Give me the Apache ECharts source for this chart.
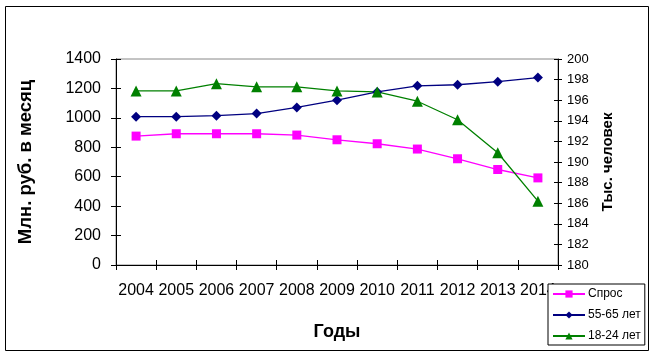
<!DOCTYPE html>
<html><head><meta charset="utf-8">
<script src="https://cdn.jsdelivr.net/npm/echarts@6/dist/echarts.min.js"></script>
<style>html,body{margin:0;padding:0;background:#fff}#c{width:657px;height:357px}</style>
</head><body><div id="c"></div>
<script>
const years = ['2004','2005','2006','2007','2008','2009','2010','2011','2012','2013','2014'];
const demand = [876, 892, 892, 892, 883, 851, 824, 788, 722, 649, 592];
const age5565 = [194.4, 194.4, 194.5, 194.7, 195.3, 196.0, 196.8, 197.4, 197.5, 197.8, 198.2];
const age1824 = [196.9, 196.9, 197.6, 197.3, 197.3, 196.9, 196.8, 195.9, 194.1, 190.9, 186.2];
const leftTicks = {min: 0, max: 1400, interval: 200};
const rightTicks = {min: 180, max: 200, interval: 2};

const font = 'Liberation Sans, Arial, sans-serif';
const chart = echarts.init(document.getElementById('c'), null, {renderer: 'canvas'});
chart.setOption({
  animation: false,
  backgroundColor: '#fff',
  textStyle: {fontFamily: font},
  grid: {left: 116, right: 99, top: 59, bottom: 92, show: true, borderColor: '#888', borderWidth: 1, backgroundColor: 'transparent'},
  graphic: [{type: 'rect', shape: {x: 5.5, y: 6.5, width: 643, height: 344}, style: {fill: 'none', stroke: '#000', lineWidth: 1}, z: -1}],
  legend: {
    orient: 'vertical', left: 548, top: 284, z: 20,
    backgroundColor: '#fff', borderColor: '#000', borderWidth: 1,
    padding: [4, 4, 3, 4], itemGap: 9, itemWidth: 32, itemHeight: 9,
    textStyle: {fontFamily: font, fontSize: 12, color: '#000', padding: [0, 0, 0, -2]},
    data: ['Спрос', '55-65 лет', '18-24 лет']
  },
  xAxis: [{
    type: 'category', data: years, boundaryGap: true,
    name: 'Годы', nameLocation: 'middle', nameGap: 58,
    nameTextStyle: {fontFamily: font, fontSize: 18, fontWeight: 'bold', color: '#000'},
    axisLine: {lineStyle: {color: '#000', width: 1}},
    axisTick: {show: true, length: 5, lineStyle: {color: '#000'}},
    axisLabel: {fontFamily: font, fontSize: 16, color: '#000', margin: 18, interval: 0}
  }, {
    type: 'category', data: years, boundaryGap: true, position: 'bottom',
    axisLine: {show: false}, axisLabel: {show: false},
    axisTick: {show: true, inside: true, length: 5, lineStyle: {color: '#000'}}
  }],
  yAxis: [{
    type: 'value', position: 'left', ...leftTicks,
    name: 'Млн. руб. в месяц', nameLocation: 'middle', nameGap: 81,
    nameTextStyle: {fontFamily: font, fontSize: 18.5, fontWeight: 'bold', color: '#000'},
    axisLine: {show: true, lineStyle: {color: '#000'}},
    axisTick: {show: true, length: 5, lineStyle: {color: '#000'}},
    axisLabel: {fontFamily: font, fontSize: 16, color: '#000', margin: 15, formatter: v => String(v)},
    splitLine: {show: false}
  }, {
    type: 'value', position: 'right', ...rightTicks,
    name: 'Тыс. человек', nameLocation: 'middle', nameGap: 42,
    nameTextStyle: {fontFamily: font, fontSize: 15, fontWeight: 'bold', color: '#000'},
    axisLine: {show: true, lineStyle: {color: '#000'}},
    axisTick: {show: true, length: 4, lineStyle: {color: '#000'}},
    axisLabel: {fontFamily: font, fontSize: 13, color: '#000', margin: 9, formatter: v => String(v)},
    splitLine: {show: false}
  }, {
    type: 'value', position: 'left', ...leftTicks,
    axisLine: {show: false}, axisLabel: {show: false}, splitLine: {show: false},
    axisTick: {show: true, inside: true, length: 5, lineStyle: {color: '#000'}}
  }, {
    type: 'value', position: 'right', ...rightTicks,
    axisLine: {show: false}, axisLabel: {show: false}, splitLine: {show: false},
    axisTick: {show: true, inside: true, length: 4, lineStyle: {color: '#000'}}
  }],
  series: [{
    name: 'Спрос', type: 'line', yAxisIndex: 0, data: demand,
    symbol: 'rect', symbolSize: 9, showAllSymbol: true,
    lineStyle: {color: '#FF00FF', width: 1.3}, itemStyle: {color: '#FF00FF'}
  }, {
    name: '55-65 лет', type: 'line', yAxisIndex: 1, data: age5565,
    symbol: 'diamond', symbolSize: 10, showAllSymbol: true,
    lineStyle: {color: '#000080', width: 1.3}, itemStyle: {color: '#000080'}
  }, {
    name: '18-24 лет', type: 'line', yAxisIndex: 1, data: age1824,
    symbol: 'triangle', symbolSize: 11, showAllSymbol: true,
    lineStyle: {color: '#008000', width: 1.3}, itemStyle: {color: '#008000'}
  }]
});
</script></body></html>
